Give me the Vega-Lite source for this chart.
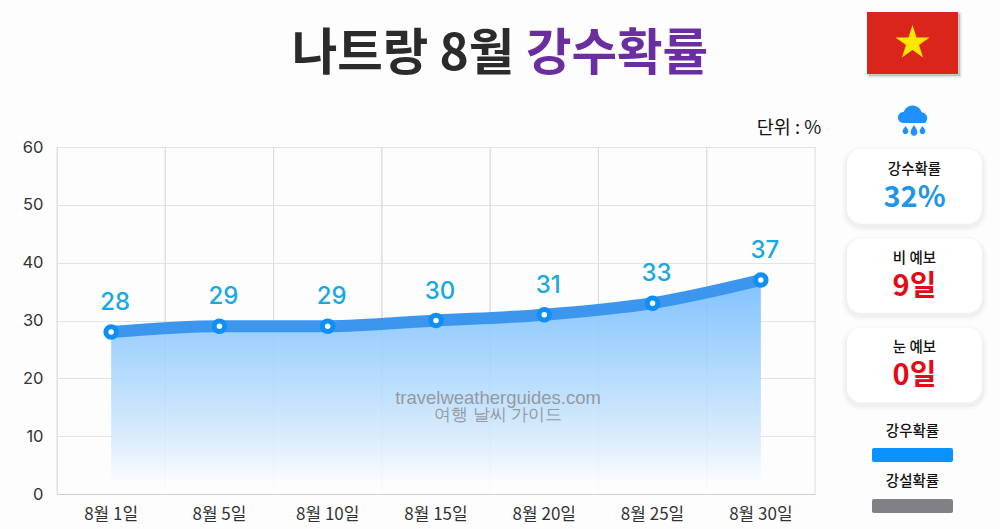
{
  "$schema": "https://vega.github.io/schema/vega-lite/v6.json",
  "width": 1000,
  "height": 529,
  "padding": 0,
  "autosize": "none",
  "background": "#fdfdfe",
  "config": {"view": {"stroke": null}, "font": "Noto Sans CJK KR"},
  "datasets": {
    "rain": [
      {"day": "8월 1일", "prob": 28},
      {"day": "8월 5일", "prob": 29},
      {"day": "8월 10일", "prob": 29},
      {"day": "8월 15일", "prob": 30},
      {"day": "8월 20일", "prob": 31},
      {"day": "8월 25일", "prob": 33},
      {"day": "8월 30일", "prob": 37}
    ],
    "cards": [
      {"card": "강수확률", "value": "32%"},
      {"card": "비 예보", "value": "9일"},
      {"card": "눈 예보", "value": "0일"}
    ],
    "legend": [
      {"kind": "강우확률"},
      {"kind": "강설확률"}
    ]
  },
  "layer": [
    {
      "data": {"name": "rain"},
      "encoding": {
        "x": {
          "field": "day",
          "type": "ordinal",
          "sort": null,
          "scale": {"type": "band", "range": [57, 815], "padding": 0},
          "axis": {
            "title": null,
            "offset": -35,
            "labelAngle": 0,
            "labelFontSize": 17,
            "labelColor": "#333333",
            "labelPadding": 12,
            "tickSize": 0,
            "grid": false,
            "domainColor": "#cfcfd4"
          }
        },
        "y": {
          "field": "prob",
          "type": "quantitative",
          "scale": {"domain": [0, 60], "range": [494, 147]},
          "axis": {
            "title": null,
            "offset": -57,
            "values": [0, 10, 20, 30, 40, 50, 60],
            "labelFontSize": 16.5,
            "labelFont": "Inter",
            "labelColor": "#333333",
            "labelPadding": 14,
            "tickSize": 0,
            "grid": true,
            "gridColor": "#e4e4e8",
            "domainColor": "#e4e4e8"
          }
        }
      },
      "layer": [
        {
          "mark": {"type": "rule", "color": "#dcdce0"},
          "encoding": {
            "x": {"field": "day", "type": "ordinal", "sort": null, "bandPosition": 0},
            "y": {"datum": 0},
            "y2": {"datum": 60}
          }
        },
        {
          "mark": {"type": "rule", "color": "#dcdce0"},
          "encoding": {
            "x": {"field": "day", "type": "ordinal", "sort": null, "bandPosition": 1},
            "y": {"datum": 0},
            "y2": {"datum": 60}
          }
        },
        {
          "mark": {
            "type": "area",
            "interpolate": "monotone",
            "opacity": 0.9,
            "color": {
              "gradient": "linear",
              "x1": 0, "y1": 0, "x2": 0, "y2": 1,
              "stops": [
                {"offset": 0, "color": "#74bcff"},
                {"offset": 0.35, "color": "#a0d2fd"},
                {"offset": 0.75, "color": "#d8ebfb"},
                {"offset": 0.95, "color": "#fcfdfe"},
                {"offset": 1, "color": "#fdfdfe"}
              ]
            }
          }
        },
        {
          "mark": {"type": "line", "interpolate": "monotone", "color": "#3d96ee", "strokeWidth": 12}
        },
        {
          "mark": {"type": "point", "shape": "circle", "filled": true, "fill": "#ffffff", "stroke": "#0f8ff5", "strokeWidth": 5, "size": 110, "opacity": 1}
        },
        {
          "mark": {"type": "text", "dy": -29, "dx": 4, "fontSize": 24, "fontWeight": 500, "color": "#1aa8e0", "font": "Inter"},
          "encoding": {"text": {"field": "prob", "type": "quantitative"}}
        }
      ]
    },
    {
      "data": {"values": [{"line": "travelweatherguides.com"}, {"line": "여행 날씨 가이드"}]},
      "mark": {"type": "text", "font": "Liberation Sans", "color": "#8d8d92", "opacity": 0.85},
      "encoding": {
        "x": {"datum": "mark", "type": "nominal", "scale": {"type": "band", "range": [398, 598], "padding": 0}, "axis": null},
        "y": {"field": "line", "type": "nominal", "sort": null, "scale": {"type": "band", "range": [390, 423], "padding": 0}, "axis": null},
        "size": {"field": "line", "type": "nominal", "sort": null, "scale": {"domain": ["travelweatherguides.com", "여행 날씨 가이드"], "range": [18.5, 16.6]}, "legend": null},
        "text": {"field": "line"}
      }
    },
    {
      "data": {"values": [{"part": "나트랑 8월"}, {"part": "강수확률"}]},
      "mark": {"type": "text", "fontSize": 49.5, "fontWeight": "bold"},
      "encoding": {
        "x": {"field": "part", "type": "nominal", "sort": null, "scale": {"type": "band", "range": [296, 724], "padding": 0}, "axis": null},
        "y": {"datum": "title", "type": "nominal", "scale": {"type": "band", "range": [23, 87], "padding": 0}, "axis": null},
        "color": {"field": "part", "type": "nominal", "sort": null, "scale": {"domain": ["나트랑 8월", "강수확률"], "range": ["#2b2b2b", "#6a2ea0"]}, "legend": null},
        "text": {"field": "part"}
      }
    },
    {
      "data": {"values": [{"unit": "단위 : %"}]},
      "mark": {"type": "text", "fontSize": 18.5, "color": "#111111"},
      "encoding": {
        "x": {"field": "unit", "type": "nominal", "scale": {"type": "band", "range": [749, 829], "padding": 0}, "axis": null},
        "y": {"field": "unit", "type": "nominal", "scale": {"type": "band", "range": [114, 142], "padding": 0}, "axis": null},
        "text": {"field": "unit"}
      }
    },
    {
      "data": {"values": [{"flag": "베트남"}]},
      "encoding": {
        "x": {"field": "flag", "type": "nominal", "scale": {"type": "band", "range": [867, 958], "padding": 0}, "axis": null},
        "y": {"field": "flag", "type": "nominal", "scale": {"type": "band", "range": [12, 74], "padding": 0}, "axis": null}
      },
      "layer": [
        {"mark": {"type": "bar", "xOffset": 2, "yOffset": 2, "stroke": "#000000", "strokeWidth": 3, "strokeOpacity": 0.1, "fill": "#000000", "fillOpacity": 0.15}},
        {"mark": {"type": "bar", "fill": "#da251d"}},
        {"mark": {"type": "point", "filled": true, "opacity": 1, "fill": "#ffe600", "size": 1296, "shape": "M0,-1L0.2245,-0.309L0.951,-0.309L0.363,0.118L0.588,0.809L0,0.382L-0.588,0.809L-0.363,0.118L-0.951,-0.309L-0.2245,-0.309Z"}}
      ]
    },
    {
      "data": {"values": [{"icon": "비"}]},
      "mark": {
        "type": "point",
        "filled": true,
        "opacity": 1,
        "fill": "#1e90ff",
        "size": 1156,
        "shape": "M-0.65,0.17A0.32,0.32 0 0 1 -0.6,-0.47A0.55,0.55 0 0 1 0.45,-0.45A0.35,0.35 0 0 1 0.65,0.17ZM-0.5,0.35C-0.42,0.48 -0.33,0.55 -0.33,0.66A0.17,0.17 0 0 1 -0.67,0.66C-0.67,0.55 -0.58,0.48 -0.5,0.35ZM0,0.3C0.1,0.48 0.2,0.58 0.2,0.72A0.2,0.2 0 0 1 -0.2,0.72C-0.2,0.58 -0.1,0.48 0,0.3ZM0.5,0.35C0.58,0.48 0.67,0.55 0.67,0.66A0.17,0.17 0 0 1 0.33,0.66C0.33,0.55 0.42,0.48 0.5,0.35Z"
      },
      "encoding": {
        "x": {"field": "icon", "type": "nominal", "scale": {"type": "band", "range": [897, 931], "padding": 0}, "axis": null},
        "y": {"field": "icon", "type": "nominal", "scale": {"type": "band", "range": [103, 137], "padding": 0}, "axis": null}
      }
    },
    {
      "data": {"name": "cards"},
      "encoding": {
        "x": {"datum": "card", "type": "nominal", "scale": {"type": "band", "range": [847, 982], "padding": 0}, "axis": null},
        "y": {"field": "card", "type": "nominal", "sort": null, "scale": {"type": "band", "range": [149, 402], "paddingInner": 0.17, "paddingOuter": 0}, "axis": null}
      },
      "layer": [
        {"mark": {"type": "bar", "cornerRadius": 14, "yOffset": 3, "fill": "#000000", "fillOpacity": 0, "stroke": "#000000", "strokeOpacity": 0.02, "strokeWidth": 10}},
        {"mark": {"type": "bar", "cornerRadius": 14, "yOffset": 3, "fill": "#000000", "fillOpacity": 0, "stroke": "#000000", "strokeOpacity": 0.03, "strokeWidth": 5}},
        {"mark": {"type": "bar", "cornerRadius": 14, "fill": "#ffffff"}},
        {
          "mark": {"type": "text", "dy": -16.5, "fontSize": 14.5, "fontWeight": 500, "color": "#111111"},
          "encoding": {"text": {"field": "card"}}
        },
        {
          "mark": {"type": "text", "dy": 11.5, "fontSize": 29, "fontWeight": "bold"},
          "encoding": {
            "text": {"field": "value"},
            "color": {"field": "card", "type": "nominal", "scale": {"domain": ["강수확률", "비 예보", "눈 예보"], "range": ["#1e96e8", "#e30b17", "#e30b17"]}, "legend": null}
          }
        }
      ]
    },
    {
      "data": {"name": "legend"},
      "encoding": {
        "x": {"datum": "legend", "type": "nominal", "scale": {"type": "band", "range": [872, 953], "padding": 0}, "axis": null},
        "y": {"field": "kind", "type": "nominal", "sort": null, "scale": {"type": "band", "range": [448, 513], "paddingInner": 0.725, "paddingOuter": 0}, "axis": null}
      },
      "layer": [
        {
          "mark": {"type": "bar", "cornerRadius": 2},
          "encoding": {
            "color": {"field": "kind", "type": "nominal", "scale": {"domain": ["강우확률", "강설확률"], "range": ["#0a93ff", "#808085"]}, "legend": null}
          }
        },
        {
          "mark": {"type": "text", "dy": -23.5, "fontSize": 14.5, "fontWeight": 500, "color": "#111111"},
          "encoding": {"text": {"field": "kind"}}
        }
      ]
    }
  ],
  "resolve": {"scale": {"x": "independent", "y": "independent", "color": "independent", "size": "independent"}}
}
